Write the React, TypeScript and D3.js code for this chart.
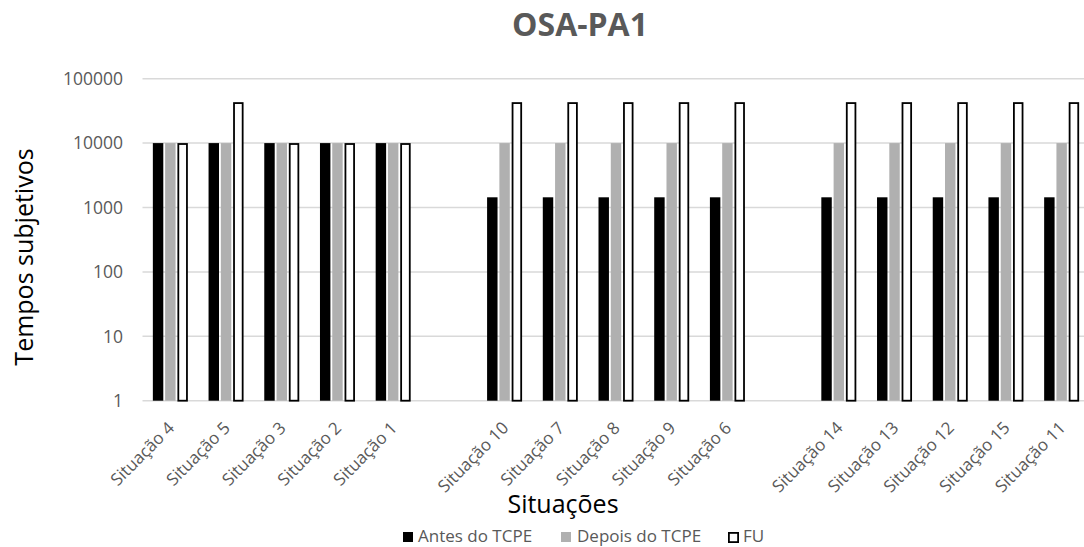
import React from "react";
import * as d3 from "d3";

const categories = [
  "Situação 4", "Situação 5", "Situação 3", "Situação 2", "Situação 1", "",
  "Situação 10", "Situação 7", "Situação 8", "Situação 9", "Situação 6", "",
  "Situação 14", "Situação 13", "Situação 12", "Situação 15", "Situação 11",
];
const antes = [10000, 10000, 10000, 10000, 10000, null, 1440, 1440, 1440, 1440, 1440, null, 1440, 1440, 1440, 1440, 1440];
const depois = [10000, 10000, 10000, 10000, 10000, null, 10000, 10000, 10000, 10000, 10000, null, 10000, 10000, 10000, 10000, 10000];
const fu = [10000, 43200, 10000, 10000, 10000, null, 43200, 43200, 43200, 43200, 43200, null, 43200, 43200, 43200, 43200, 43200];
const seriesNames = ["Antes do TCPE", "Depois do TCPE", "FU"];
const yTicks = [1, 10, 100, 1000, 10000, 100000];

const W = 1084, H = 547;
const plot = { left: 142.5, right: 1089.5, top: 78.7, bottom: 400.7 };
const FONT = "'Open Sans', sans-serif";

export default function App() {
  const idx = categories.map((_, i) => i);
  const x = d3.scaleBand<number>().domain(idx).range([plot.left, plot.right]).padding(0);
  const y = d3.scaleLog().domain([1, 100000]).range([plot.bottom, plot.top]);
  const groupW = 35;
  const x1 = d3.scaleBand<number>().domain([0, 1, 2]).range([0, groupW]).paddingInner(0.15);
  const series = [antes, depois, fu];
  const fills = ["#000000", "#b0b0b0", "#ffffff"];

  const bars: React.ReactNode[] = [];
  series.forEach((vals, s) => {
    vals.forEach((v, i) => {
      if (v == null) return;
      const cx = (x(i) as number) + x.bandwidth() / 2;
      const bx = cx - groupW / 2 + (x1(s) as number);
      const top = y(v);
      const bw = x1.bandwidth();
      if (s === 2) {
        bars.push(
          <rect key={`b${s}-${i}`} x={bx + 0.9} y={top + 0.9} width={bw - 1.8} height={plot.bottom - top - 0.9}
            fill="#fff" stroke="#000" strokeWidth={1.8} />
        );
      } else {
        bars.push(
          <rect key={`b${s}-${i}`} x={bx} y={top} width={bw} height={plot.bottom - top} fill={fills[s]} />
        );
      }
    });
  });

  return (
    <svg width={W} height={H} style={{ position: "absolute", left: 0, top: 0, background: "#fff" }}>
      <text x={580} y={36} textAnchor="middle" fontFamily={FONT} fontWeight="bold" fontSize={32} fill="#595959">OSA-PA1</text>
      {yTicks.map((t) => (
        <g key={`g${t}`}>
          <line x1={plot.left} x2={W} y1={y(t)} y2={y(t)} stroke="#d9d9d9" strokeWidth={1.5} />
          <text x={123} y={y(t)} dy="0.36em" textAnchor="end" fontFamily={FONT} fontSize={17.5} fill="#595959">{t}</text>
        </g>
      ))}
      {bars}
      {categories.map((c, i) => {
        if (!c) return null;
        const cx = (x(i) as number) + x.bandwidth() / 2;
        return (
          <text key={`c${i}`} transform={`translate(${cx + 5},${429}) rotate(-45)`} textAnchor="end"
            fontFamily={FONT} fontSize={17} fill="#595959">{c}</text>
        );
      })}
      <text transform={`translate(33,257) rotate(-90)`} textAnchor="middle" fontFamily={FONT} fontSize={25} fill="#000">Tempos subjetivos</text>
      <text x={563} y={513} textAnchor="middle" fontFamily={FONT} fontSize={25} fill="#000">Situações</text>
      <g fontFamily={FONT} fontSize={17} fill="#595959">
        <rect x={403} y={532} width={10} height={10} fill="#000" />
        <text x={418} y={536} dy="0.36em">{seriesNames[0]}</text>
        <rect x={561} y={532} width={10} height={10} fill="#b0b0b0" />
        <text x={577} y={536} dy="0.36em">{seriesNames[1]}</text>
        <rect x={728.9} y={532.9} width={9.2} height={9.2} fill="#fff" stroke="#000" strokeWidth={1.8} />
        <text x={743} y={536} dy="0.36em">{seriesNames[2]}</text>
      </g>
    </svg>
  );
}
